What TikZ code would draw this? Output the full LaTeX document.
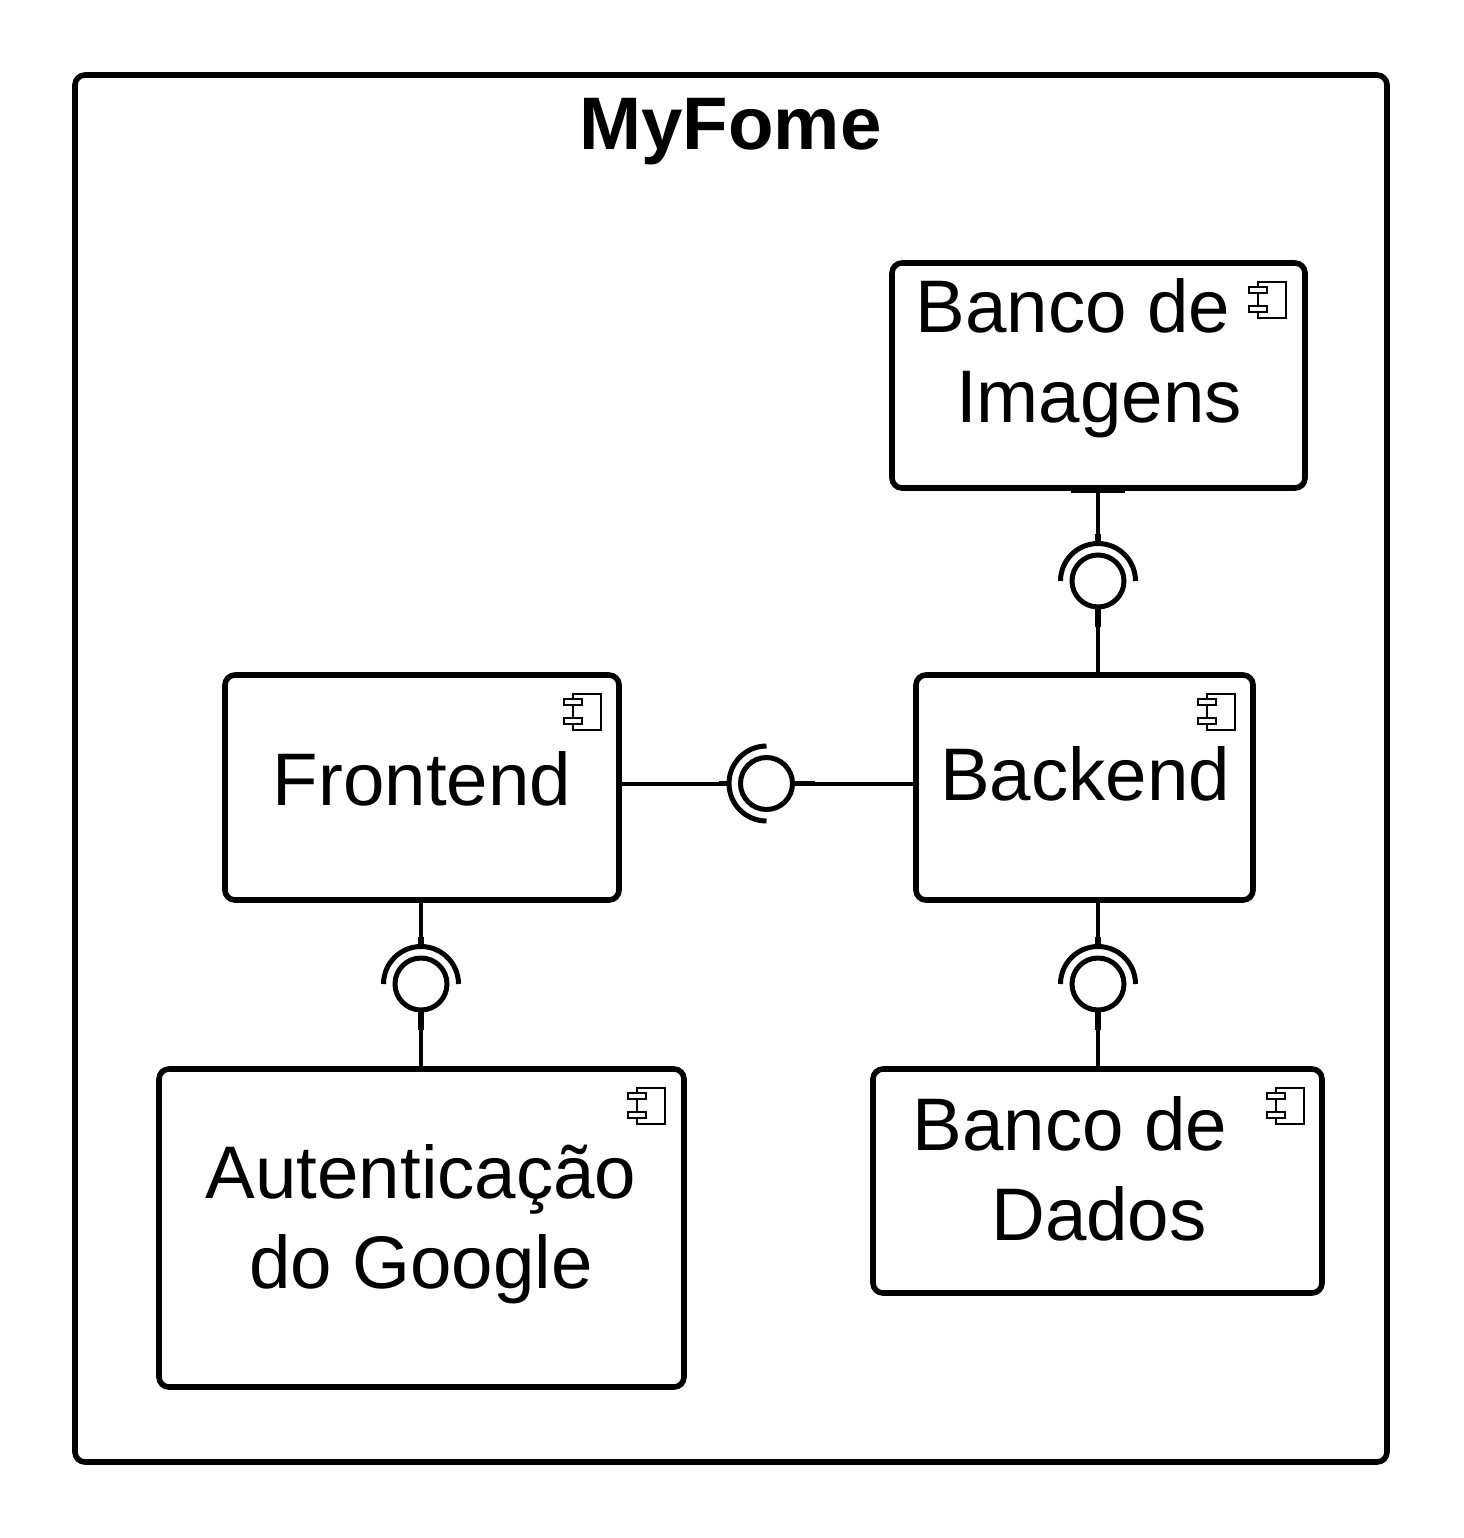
\documentclass[tikz,border=0pt]{standalone}
\usepackage{fontspec}
\setmainfont{Liberation Sans}
\tikzset{
  box/.style={draw=black,line width=2.8pt,rounded corners=5pt,inner sep=0pt,outer sep=0pt,fill=white},
  lbl/.style={inner sep=0pt,outer sep=0pt,align=center,font=\fontsize{37.25}{45}\selectfont},
  ball/.style={circle,draw=black,line width=2.5pt,minimum size=26pt,inner sep=0pt,outer sep=0pt},
  socket/.style={draw=black,line width=2.5pt},
  conn/.style={draw=black,line width=2pt},
  tabmark/.style={draw=black,line width=2.8pt},
  compicon/.pic={
    \draw[black,line width=1.1pt] (-28,0) rectangle (0,36);
    \draw[black,line width=1.1pt,fill=white] (-37,5) rectangle (-19,11);
    \draw[black,line width=1.1pt,fill=white] (-37,24) rectangle (-19,30);
  }
}
\begin{document}
\begin{tikzpicture}[x=0.5pt,y=-0.5pt]
\useasboundingbox (0,0) rectangle (1463,1538);
% boxes
\node[box,minimum width=656pt,minimum height=693.5pt] (sys) at (731,768.5) {};
\node[box,minimum width=206.5pt,minimum height=112.5pt] (img) at (1098.5,375.5) {};
\node[box,minimum width=197pt,minimum height=112.5pt] (front) at (422,787.5) {};
\node[box,minimum width=168.5pt,minimum height=112.5pt] (back) at (1084.5,787.5) {};
\node[box,minimum width=262.5pt,minimum height=159pt] (auth) at (421.5,1228) {};
\node[box,minimum width=224.5pt,minimum height=112pt] (dados) at (1097.5,1181) {};
% labels
\node[lbl,font=\fontsize{37.25}{45}\selectfont\bfseries] (title) at (730.5,132) {MyFome};
\node[lbl] (limg) at (1099,358) {Banco de\hspace*{26pt}\\Imagens};
\node[lbl] (lfront) at (422,779) {Frontend};
\node[lbl] (lback) at (1085,774) {Backend};
\node[lbl] (lauth) at (421,1224) {Autenticação\\do Google};
\node[lbl] (ldados) at (1099,1169) {Banco de\hspace*{29pt}\\Dados};
% icons
\pic at ([shift={(-19,19)}]img.north east) {compicon};
\pic at ([shift={(-18,19)}]front.north east) {compicon};
\pic at ([shift={(-18,19)}]back.north east) {compicon};
\pic at ([shift={(-19,19)}]auth.north east) {compicon};
\pic at ([shift={(-18,19)}]dados.north east) {compicon};
% lollipops
\node[ball] (b1) at (1098,581) {};
\node[ball] (b2) at (766.5,783.5) {};
\node[ball] (b3) at (421,984) {};
\node[ball] (b4) at (1098,984) {};
\coordinate (s1) at ([yshift=18.75pt]b1.center);
\coordinate (s2) at ([xshift=-18.75pt]b2.center);
\coordinate (s3) at ([yshift=18.75pt]b3.center);
\coordinate (s4) at ([yshift=18.75pt]b4.center);
\draw[socket] ([xshift=18.75pt]b1.center) arc[start angle=0,end angle=180,radius=18.75pt];
\draw[socket] ([yshift=18.75pt]b2.center) arc[start angle=90,end angle=270,radius=18.75pt];
\draw[socket] ([xshift=18.75pt]b3.center) arc[start angle=0,end angle=180,radius=18.75pt];
\draw[socket] ([xshift=18.75pt]b4.center) arc[start angle=0,end angle=180,radius=18.75pt];
% connectors
\draw[conn] (img.south -| b1.center) -- (s1);
\draw[conn] (b1.south) -- (back.north -| b1.center);
\draw[conn] (front.east |- b2.center) -- (s2);
\draw[conn] (b2.east) -- (back.west |- b2.center);
\draw[conn] (front.south -| b3.center) -- (s3);
\draw[conn] (b3.south) -- (auth.north -| b3.center);
\draw[conn] (back.south -| b4.center) -- (s4);
\draw[conn] (b4.south) -- (dados.north -| b4.center);
% thickened stubs
\draw[tabmark] ([xshift=-13.5pt,yshift=-1pt]img.south -| b1.center) -- ([xshift=13.5pt,yshift=-1pt]img.south -| b1.center);
\draw[tabmark] (s1) -- ([yshift=5pt]s1);
\draw[tabmark] (b1.south) -- ([yshift=-10pt]b1.south);
\draw[tabmark] (s2) -- ([xshift=-5pt]s2);
\draw[tabmark] (b2.east) -- ([xshift=11pt]b2.east);
\draw[tabmark] (s3) -- ([yshift=5pt]s3);
\draw[tabmark] (b3.south) -- ([yshift=-10pt]b3.south);
\draw[tabmark] (s4) -- ([yshift=5pt]s4);
\draw[tabmark] (b4.south) -- ([yshift=-10pt]b4.south);
\end{tikzpicture}
\end{document}
